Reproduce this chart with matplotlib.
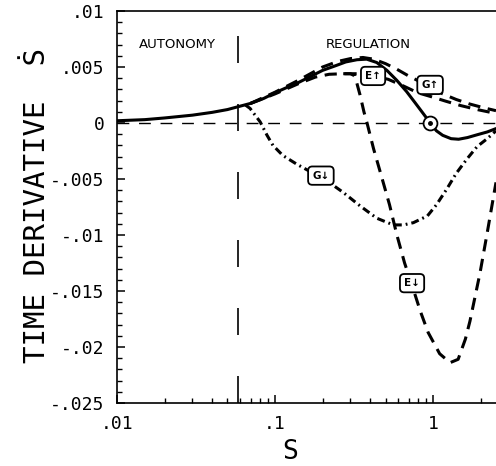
import matplotlib
matplotlib.use('Agg')
import matplotlib.pyplot as plt
from matplotlib.ticker import FixedLocator, MultipleLocator, NullFormatter

# shared start (solid) and the reference curve
base_x = [0.01, 0.015, 0.02, 0.03, 0.04, 0.05, 0.06, 0.07, 0.085, 0.1, 0.12, 0.14, 0.17, 0.2,
          0.24, 0.28, 0.33, 0.38, 0.44, 0.51, 0.59, 0.68, 0.77, 0.86, 0.96, 1.05, 1.15, 1.3,
          1.45, 1.65, 1.9, 2.2, 2.5]
base_y = [0.2, 0.3, 0.45, 0.7, 0.95, 1.2, 1.5, 1.75, 2.2, 2.7, 3.2, 3.6, 4.2, 4.7,
          5.1, 5.45, 5.65, 5.7, 5.4, 4.7, 3.8, 2.8, 1.8, 0.9, 0.0, -0.7, -1.1, -1.4,
          -1.45, -1.3, -1.05, -0.8, -0.5]

# G up (dashed)
gup_x = [0.07, 0.1, 0.14, 0.2, 0.25, 0.3, 0.36, 0.42, 0.5, 0.59, 0.7, 0.85, 0.96, 1.15, 1.4,
         1.7, 2.1, 2.5]
gup_y = [1.75, 2.75, 3.8, 5.0, 5.5, 5.75, 5.85, 5.7, 5.3, 4.8, 4.2, 3.6, 3.3, 2.6, 2.1,
         1.7, 1.35, 1.1]

# E up (dashed)
eup_x = [0.07, 0.1, 0.14, 0.18, 0.22, 0.27, 0.33, 0.42, 0.52, 0.65, 0.8, 1.0, 1.2, 1.5, 1.9, 2.5]
eup_y = [1.75, 2.6, 3.5, 4.1, 4.35, 4.4, 4.4, 4.2, 3.9, 3.3, 2.7, 2.3, 1.95, 1.55, 1.2, 0.85]

# E down (dashed)
edn_x = [0.27, 0.3, 0.32, 0.345, 0.365, 0.382, 0.42, 0.47, 0.53, 0.59, 0.66, 0.74, 0.83, 0.93,
         1.1, 1.28, 1.44, 1.6, 1.71, 1.98, 2.2, 2.5]
edn_y = [4.4, 4.4, 4.2, 2.5, 1.0, 0.0, -2.3, -4.7, -7.3, -10.0, -12.5, -14.6, -16.8, -18.7,
         -20.6, -21.4, -21.1, -19.3, -17.7, -13.4, -9.8, -5.3]

# G down (dash-dot)
gdn_x = [0.065, 0.0695, 0.0805, 0.089, 0.097, 0.112, 0.138, 0.165, 0.193, 0.23, 0.27, 0.345,
         0.44, 0.56, 0.65, 0.75, 0.92, 1.05, 1.22, 1.4, 1.64, 1.9, 2.2, 2.5]
gdn_y = [1.6, 1.3, 0.1, -1.1, -2.0, -2.9, -3.7, -4.3, -4.8, -5.5, -6.2, -7.4,
         -8.5, -9.1, -9.1, -8.9, -8.3, -7.3, -5.9, -4.5, -3.2, -2.1, -1.4, -0.7]

ytick_vals = [0.01, 0.005, 0, -0.005, -0.01, -0.015, -0.02, -0.025]
ytick_labels = ['.01', '.005', '0', '-.005', '-.01', '-.015', '-.02', '-.025']
xtick_vals = [0.01, 0.1, 1]
xtick_labels = ['.01', '.1', '1']

def scaled(v):
    return [a / 1000.0 for a in v]

fig = plt.figure(figsize=(4.96, 4.66), dpi=100)
ax = fig.add_axes([0.2359, 0.1352, 0.7641, 0.8412])
ax.set_xscale('log')
ax.set_xlim(0.01, 2.5)
ax.set_ylim(-0.025, 0.01)

lw = 2.2
ax.plot(base_x, scaled(base_y), color='black', lw=lw, solid_capstyle='round')
ax.plot(gup_x, scaled(gup_y), color='black', lw=lw, dashes=(4, 2.5))
ax.plot(eup_x, scaled(eup_y), color='black', lw=lw, dashes=(4, 2.5))
ax.plot(edn_x, scaled(edn_y), color='black', lw=lw, dashes=(4, 2.5))
ax.plot(gdn_x, scaled(gdn_y), color='black', lw=lw, dashes=(2.6, 1.3, 0.6, 1.3))

ax.axhline(0, color='black', lw=1.0, dashes=(8.5, 7))
ax.axvline(0.058, color='black', lw=1.2, dashes=(16.2, 24.6))

# circled zero crossing
ax.plot([0.957], [0.0], marker='o', ms=10, mfc='white', mec='black', mew=1.3, zorder=5)
ax.plot([0.957], [0.0], marker='o', ms=2.5, color='black', zorder=6)

box = dict(boxstyle='round,pad=0.4', fc='white', ec='black', lw=1.3)
for s, x, y in [('E↑', 0.417, 0.0042), ('G↑', 0.957, 0.0034),
                ('G↓', 0.195, -0.0047), ('E↓', 0.736, -0.0143)]:
    ax.text(x, y, s, ha='center', va='center', fontsize=7.5, fontweight='bold',
            bbox=box, zorder=7)

ax.text(0.024, 0.00705, 'AUTONOMY', ha='center', va='center', fontsize=9.5)
ax.text(0.388, 0.00705, 'REGULATION', ha='center', va='center', fontsize=9.5)

mono = ['DejaVu Sans Mono', 'DejaVu Sans']
ax.yaxis.set_major_locator(FixedLocator(ytick_vals))
ax.yaxis.set_minor_locator(MultipleLocator(0.001))
ax.set_yticklabels(ytick_labels, family=mono, fontsize=13)
ax.xaxis.set_major_locator(FixedLocator(xtick_vals))
ax.set_xticklabels(xtick_labels, family=mono, fontsize=13)
ax.xaxis.set_minor_formatter(NullFormatter())

ax.tick_params(which='major', direction='in', length=6, width=1.1, pad=9)
ax.tick_params(which='minor', direction='in', length=3.5, width=1.0)
ax.tick_params(top=False, right=False, which='both')

for side in ['left', 'bottom', 'top']:
    ax.spines[side].set_linewidth(1.2)
ax.spines['right'].set_visible(False)

ax.set_ylabel('TIME DERIVATIVE  Ṡ', family=mono, fontsize=21, va='center')
ax.yaxis.set_label_coords(-0.211, 0.505)
ax.set_xlabel('S', family=mono, fontsize=19, va='center')
ax.xaxis.set_label_coords(0.456, -0.125)

fig.savefig('out.png', dpi=100)
